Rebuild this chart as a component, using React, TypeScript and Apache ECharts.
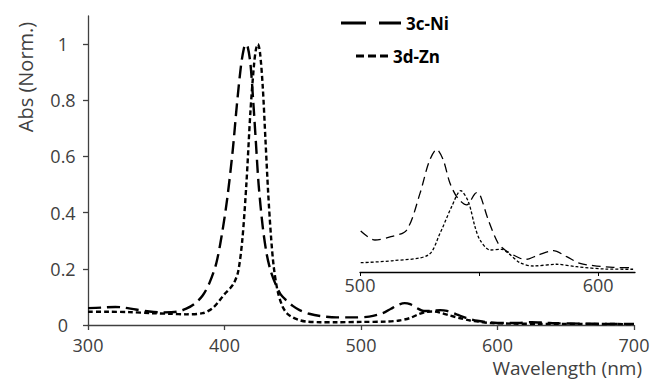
import React, { useEffect, useRef } from "react";
import * as echarts from "echarts";

const FONT = "'Open Sans', 'Noto Sans', sans-serif";

// Main spectrum (wavelength nm, normalized absorbance)
const niWl = [300, 310, 320, 325, 335, 345, 355, 365, 372, 378, 384, 389, 394, 398, 402, 406, 409, 412, 414, 415.5, 417, 419, 421, 423, 425, 428, 431, 434, 437.7, 441, 445, 450, 455, 462, 470, 482, 495, 506, 516, 522, 528, 532, 536, 541, 546, 552, 558, 563, 570, 577, 585, 595, 605, 615, 625, 635, 645, 660, 680, 700];
const niAbs = [0.06, 0.062, 0.064, 0.063, 0.055, 0.048, 0.045, 0.047, 0.058, 0.075, 0.105, 0.15, 0.22, 0.32, 0.45, 0.62, 0.78, 0.92, 0.98, 1.0, 0.99, 0.93, 0.8, 0.65, 0.5, 0.35, 0.25, 0.19, 0.142, 0.11, 0.089, 0.068, 0.053, 0.04, 0.032, 0.027, 0.027, 0.03, 0.042, 0.058, 0.073, 0.078, 0.074, 0.06, 0.05, 0.05, 0.053, 0.05, 0.038, 0.025, 0.015, 0.009, 0.007, 0.007, 0.01, 0.008, 0.006, 0.005, 0.004, 0.004];

const znWl = [300, 315, 330, 347, 360, 372, 384, 391, 396, 400, 404, 407, 410, 413, 416, 419, 421.5, 423, 424.5, 426, 428, 430, 432, 434, 436, 439, 442.6, 446, 450, 455, 460, 470, 482, 500, 518, 528, 536, 542, 548, 553, 558, 565, 572, 580, 586, 595, 610, 630, 660, 700];
const znAbs = [0.047, 0.047, 0.046, 0.042, 0.04, 0.038, 0.042, 0.059, 0.085, 0.11, 0.13, 0.15, 0.19, 0.3, 0.5, 0.76, 0.92, 0.98, 1.0, 0.97, 0.85, 0.66, 0.47, 0.32, 0.21, 0.119, 0.065, 0.04, 0.027, 0.017, 0.012, 0.01, 0.01, 0.011, 0.012, 0.016, 0.025, 0.038, 0.047, 0.048, 0.044, 0.034, 0.025, 0.016, 0.012, 0.007, 0.005, 0.004, 0.004, 0.003];

// Inset (relative scale)
const insetNiWl = [500.3, 506.3, 513, 519.6, 525.2, 529, 532.2, 535, 537.8, 541, 544.8, 549, 550.4, 553.9, 558, 560.9, 567.2, 570, 574.9, 581.2, 586.8, 592.4, 598, 606.3, 614.7];
const insetNi = [0.238, 0.186, 0.205, 0.244, 0.457, 0.64, 0.713, 0.65, 0.516, 0.43, 0.39, 0.461, 0.448, 0.302, 0.167, 0.128, 0.08, 0.074, 0.099, 0.124, 0.089, 0.05, 0.037, 0.027, 0.025];

const insetZnWl = [500.3, 514, 528.7, 533.6, 538.5, 542.3, 545.5, 548.3, 550.4, 554.6, 559.5, 562.3, 567.2, 572.8, 582.6, 591, 603.6, 614.7];
const insetZn = [0.054, 0.066, 0.099, 0.225, 0.38, 0.473, 0.409, 0.263, 0.186, 0.128, 0.132, 0.109, 0.054, 0.035, 0.045, 0.031, 0.017, 0.016];

const yTicks = [0, 0.2, 0.4, 0.6, 0.8, 1];
const insetTicks = [500, 550, 600];
const insetLabels = [500, 600];

const zip = (xs: number[], ys: number[]) => xs.map((x, i) => [x, ys[i]]);

export default function App() {
  const ref = useRef<HTMLDivElement>(null);
  useEffect(() => {
    const chart = echarts.init(ref.current!, null, { renderer: "svg" });
    const axisColor = "#404040";
    const labelStyle = { fontFamily: FONT, fontSize: 18, lineHeight: 18, color: "#404040" };
    const legendText = { fontFamily: FONT, fontSize: 17, lineHeight: 20, fontWeight: "bold", color: "#000" };
    chart.setOption({
      animation: false,
      backgroundColor: "#ffffff",
      grid: [
        { left: 88, right: 17, top: 16, bottom: 58, containLabel: false, outerBoundsMode: "none" },
        { left: 360, right: 16, top: 100, bottom: 111, containLabel: false, outerBoundsMode: "none" },
      ],
      legend: [
        {
          data: ["3c-Ni"],
          left: 341,
          top: 13,
          padding: 0,
          itemWidth: 60,
          itemHeight: 3,
          icon: "path://M0,0H25V3H0Z M38,0H60V3H38Z",
          selectedMode: false,
          itemStyle: { color: "#000" },
          textStyle: legendText,
        },
        {
          data: ["3d-Zn"],
          left: 356,
          top: 46,
          padding: 0,
          itemWidth: 32,
          itemHeight: 3,
          icon: "path://M0,0H8V3H0Z M12,0H20V3H12Z M24,0H32V3H24Z",
          selectedMode: false,
          itemStyle: { color: "#000" },
          textStyle: legendText,
        },
      ],
      xAxis: [
        {
          gridIndex: 0,
          type: "value",
          min: 300,
          max: 700,
          interval: 100,
          axisLine: { show: true, onZero: false, lineStyle: { color: axisColor, width: 1.3 } },
          axisTick: { show: true, length: 5, lineStyle: { color: axisColor, width: 1.3 } },
          axisLabel: { ...labelStyle, margin: 11 },
          splitLine: { show: false },
        },
        {
          gridIndex: 1,
          type: "value",
          min: 500,
          max: 615.5,
          axisLine: { show: true, onZero: false, lineStyle: { color: "#000", width: 1.3 } },
          axisTick: { show: true, length: 4, customValues: insetTicks, lineStyle: { color: "#000", width: 1 } },
          axisLabel: { ...labelStyle, margin: 4, customValues: insetLabels },
          splitLine: { show: false },
        },
      ],
      yAxis: [
        {
          gridIndex: 0,
          type: "value",
          min: 0,
          max: 1.1,
          axisLine: { show: true, lineStyle: { color: axisColor, width: 1.3 } },
          axisTick: { show: true, length: 5, customValues: yTicks, lineStyle: { color: axisColor, width: 1.3 } },
          axisLabel: { ...labelStyle, lineHeight: 14, margin: 25, align: "center", customValues: yTicks },
          splitLine: { show: false },
        },
        { gridIndex: 1, type: "value", min: 0, max: 1, show: false },
      ],
      graphic: [
        {
          type: "text",
          x: 25,
          y: 77,
          rotation: Math.PI / 2,
          style: { text: "Abs (Norm.)", fontFamily: FONT, fontSize: 20, fill: "#404040", align: "center", verticalAlign: "middle" },
        },
        {
          type: "text",
          x: 642,
          y: 368,
          style: { text: "Wavelength (nm)", fontFamily: FONT, fontSize: 19, fill: "#404040", align: "right", verticalAlign: "middle" },
        },
      ],
      series: [
        {
          name: "3c-Ni",
          type: "line",
          xAxisIndex: 0,
          yAxisIndex: 0,
          data: zip(niWl, niAbs),
          symbol: "none",
          smooth: 0.3,
          lineStyle: { color: "#000", width: 2.4, type: [13, 6] },
          itemStyle: { color: "#000" },
        },
        {
          name: "3d-Zn",
          type: "line",
          xAxisIndex: 0,
          yAxisIndex: 0,
          data: zip(znWl, znAbs),
          symbol: "none",
          smooth: 0.3,
          lineStyle: { color: "#000", width: 2.4, type: [5, 3] },
          itemStyle: { color: "#000" },
        },
        {
          name: "inset 3c-Ni",
          type: "line",
          xAxisIndex: 1,
          yAxisIndex: 1,
          data: zip(insetNiWl, insetNi),
          symbol: "none",
          smooth: 0.3,
          lineStyle: { color: "#000", width: 1.3, type: [9, 5] },
        },
        {
          name: "inset 3d-Zn",
          type: "line",
          xAxisIndex: 1,
          yAxisIndex: 1,
          data: zip(insetZnWl, insetZn),
          symbol: "none",
          smooth: 0.3,
          lineStyle: { color: "#000", width: 1.3, type: [3, 2] },
        },
      ],
    });
    return () => chart.dispose();
  }, []);
  return <div ref={ref} style={{ position: "absolute", left: 0, top: 0, width: 651, height: 383 }} />;
}
